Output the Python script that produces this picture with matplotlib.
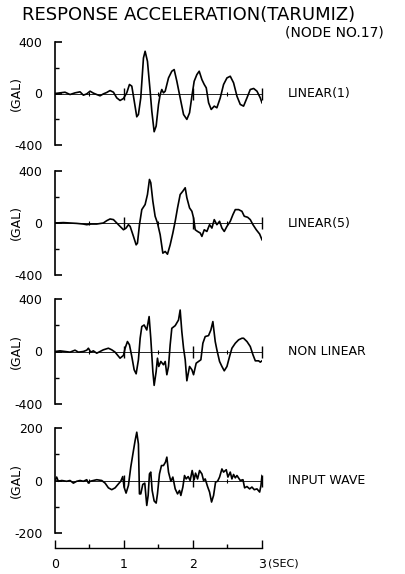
import matplotlib
matplotlib.use("Agg")
import matplotlib.pyplot as plt
from matplotlib.ticker import FixedLocator, MultipleLocator

plt.rcParams['font.family'] = ['DejaVu Sans']
plt.rcParams['axes.unicode_minus'] = False

# ---------------- data (time in sec, acceleration in GAL) ----------------
t_lin1 = [0, 0.073, 0.145, 0.218, 0.290, 0.363, 0.411, 0.460, 0.508, 0.556, 0.605, 0.653,
          0.701, 0.750, 0.798, 0.847, 0.895, 0.943, 0.992, 1.040, 1.079, 1.113, 1.137, 1.185,
          1.209, 1.243, 1.282, 1.306, 1.340, 1.379, 1.403, 1.437, 1.466, 1.500, 1.524, 1.548,
          1.572, 1.597, 1.645, 1.693, 1.727, 1.766, 1.814, 1.863, 1.911, 1.950, 1.984, 2.017,
          2.056, 2.090, 2.129, 2.163, 2.192, 2.226, 2.264, 2.308, 2.346, 2.395, 2.443, 2.492,
          2.540, 2.588, 2.637, 2.685, 2.733, 2.782, 2.830, 2.879, 2.927, 2.975, 3.0]
a_lin1 = [0, 5, 10, -8, 5, 13, -13, -3, 18, 3, -8, -18,
          -3, 8, 23, 10, -34, -54, -39, 5, 70, 57, -21, -181,
          -163, -34, 276, 328, 250, 18, -137, -297, -253, -85, -8, 31,
          5, 18, 121, 173, 186, 95, -34, -163, -201, -150, -21, 95,
          147, 173, 108, 70, 44, -72, -124, -98, -111, -34, 70, 121,
          134, 83, -21, -85, -98, -34, 31, 39, 18, -34, -72]

t_lin5 = [0, 0.121, 0.218, 0.314, 0.411, 0.460, 0.518, 0.605, 0.701, 0.750, 0.798, 0.847,
          0.895, 0.943, 0.992, 1.030, 1.064, 1.089, 1.137, 1.176, 1.195, 1.224, 1.258, 1.306,
          1.340, 1.369, 1.388, 1.418, 1.451, 1.485, 1.524, 1.563, 1.597, 1.630, 1.669, 1.708,
          1.742, 1.776, 1.814, 1.853, 1.887, 1.911, 1.950, 1.984, 2.008, 2.032, 2.066, 2.105,
          2.129, 2.163, 2.201, 2.240, 2.274, 2.308, 2.346, 2.385, 2.419, 2.453, 2.492, 2.540,
          2.579, 2.613, 2.661, 2.709, 2.743, 2.792, 2.830, 2.869, 2.917, 2.966, 3.0]
a_lin5 = [0, 3, 0, -3, -8, -13, -8, -8, 0, 18, 31, 26,
          0, -26, -52, -39, -13, -26, -103, -168, -155, -13, 103, 142,
          219, 335, 310, 168, 52, 0, -90, -232, -219, -240, -168, -77,
          13, 116, 219, 245, 271, 194, 116, 90, 39, -52, -65, -77,
          -103, -52, -65, -13, -39, 26, -13, 13, -39, -65, -26, 13,
          65, 103, 103, 90, 52, 44, 26, -13, -52, -85, -129]

t_nonlin = [0, 0.073, 0.145, 0.218, 0.290, 0.339, 0.411, 0.460, 0.484, 0.518, 0.556, 0.605,
            0.653, 0.701, 0.774, 0.822, 0.871, 0.943, 0.992, 1.016, 1.050, 1.079, 1.113, 1.147,
            1.176, 1.209, 1.234, 1.258, 1.292, 1.330, 1.364, 1.388, 1.418, 1.437, 1.466, 1.485,
            1.504, 1.534, 1.572, 1.597, 1.621, 1.645, 1.669, 1.693, 1.742, 1.790, 1.814, 1.838,
            1.863, 1.887, 1.911, 1.950, 1.984, 2.008, 2.046, 2.080, 2.114, 2.143, 2.177, 2.225,
            2.259, 2.288, 2.322, 2.346, 2.385, 2.419, 2.453, 2.492, 2.530, 2.564, 2.613, 2.661,
            2.709, 2.733, 2.782, 2.830, 2.869, 2.903, 2.951, 2.975, 3.0]
a_nonlin = [0, 5, 0, -5, 10, -5, 0, 10, 25, -5, 5, -13,
            0, 13, 25, 13, -5, -51, -30, 25, 76, 51, -38, -139,
            -170, -63, 101, 190, 202, 164, 266, 101, -152, -258, -152, -51,
            -114, -76, -101, -76, -177, -114, 51, 177, 197, 240, 316, 152,
            25, -63, -223, -114, -139, -177, -89, -76, -63, 63, 114, 121,
            164, 228, 76, 13, -76, -114, -147, -114, -38, 25, 63, 89,
            101, 101, 76, 38, -25, -71, -71, -81, -71]

t_input = [0, 0.024, 0.048, 0.097, 0.169, 0.218, 0.266, 0.314, 0.363, 0.411, 0.460, 0.484,
           0.508, 0.556, 0.605, 0.677, 0.726, 0.774, 0.822, 0.871, 0.919, 0.953, 0.982, 1.001,
           1.030, 1.064, 1.098, 1.137, 1.161, 1.185, 1.209, 1.224, 1.243, 1.272, 1.301, 1.330,
           1.350, 1.369, 1.388, 1.408, 1.437, 1.466, 1.485, 1.514, 1.543, 1.572, 1.601, 1.621,
           1.645, 1.679, 1.708, 1.742, 1.776, 1.805, 1.824, 1.853, 1.877, 1.901, 1.930, 1.959,
           1.988, 2.017, 2.037, 2.066, 2.095, 2.129, 2.153, 2.177, 2.211, 2.240, 2.269, 2.298,
           2.327, 2.356, 2.385, 2.419, 2.443, 2.482, 2.506, 2.540, 2.564, 2.588, 2.613, 2.637,
           2.685, 2.724, 2.748, 2.782, 2.821, 2.854, 2.888, 2.927, 2.966, 2.985, 3.0]
a_input = [0, 13, -3, 0, -3, 0, -10, -3, 0, -3, 3, -10,
           -3, 0, 3, 0, -10, -28, -35, -28, -13, -3, 15, -25,
           -48, -19, 51, 114, 152, 184, 139, -51, -51, -15, -10, -95,
           -57, 25, 32, -38, -78, -86, -51, 25, 57, 57, 70, 89,
           32, -3, 13, -32, -51, -38, -57, -25, 19, 6, 15, 0,
           38, 3, 28, 6, 38, 25, 0, 6, -23, -44, -82, -57,
           -6, -3, 13, 44, 32, 41, 13, 32, 6, 23, 10, 19,
           0, 3, -28, -23, -32, -25, -35, -32, -44, -19, 19]

series_t = [t_lin1, t_lin5, t_nonlin, t_input]
series_a = [a_lin1, a_lin5, a_nonlin, a_input]
labels = ["LINEAR(1)", "LINEAR(5)", "NON LINEAR", "INPUT WAVE"]
y_limits = [400, 400, 400, 200]
x_tick_labels = ["0", "1", "2", "3"]

# ---------------- figure ----------------
W, H = 405, 574
fig = plt.figure(figsize=(W / 100, H / 100), dpi=100)
fig.patch.set_facecolor("white")

x0 = 55 / W
wd = 207 / W
panel_px = [(42, 145), (171, 275), (299, 404), (428, 533)]
FS = 9

for i, (top, bot) in enumerate(panel_px):
    ax = fig.add_axes([x0, 1 - bot / H, wd, (bot - top) / H])
    lim = y_limits[i]
    ax.plot(series_t[i], series_a[i], color="black", lw=1.2, solid_joinstyle="round")
    ax.set_xlim(0, 3)
    ax.set_ylim(-lim, lim)
    for s in ("top", "right"):
        ax.spines[s].set_visible(False)
    ax.spines["left"].set_linewidth(1.2)
    ax.spines["bottom"].set_position(("data", 0))
    ax.spines["bottom"].set_linewidth(0.6)
    ax.xaxis.set_major_locator(FixedLocator([1, 2, 3]))
    ax.xaxis.set_minor_locator(FixedLocator([0.5, 1.5, 2.5]))
    ax.tick_params(axis="x", which="major", direction="inout", length=8, width=1.0,
                   labelbottom=False)
    ax.tick_params(axis="x", which="minor", direction="inout", length=3, width=0.8)
    ax.set_yticks([-lim, 0, lim])
    ax.set_yticklabels([f"-{lim}", "0", f"{lim}"])
    ax.yaxis.set_minor_locator(FixedLocator([-lim / 2, lim / 2]))
    ax.tick_params(axis="y", which="major", direction="in", length=5, width=1.2,
                   labelsize=FS, pad=9)
    ax.tick_params(axis="y", which="minor", direction="in", length=3, width=1.0)
    ax.patch.set_alpha(0)
    ymid = 1 - ((top + bot) / 2) / H
    # "(GAL)" label
    fig.text(16 / W, ymid, "(GAL)", fontsize=FS, rotation=90, ha="center", va="center")
    # series label at right
    fig.text(288 / W, ymid, labels[i], fontsize=FS, ha="left", va="center")

# bottom time axis
axb = fig.add_axes([x0, 1 - 548 / H, wd, 0.001])
axb.set_xlim(0, 3)
axb.set_yticks([])
for s in ("top", "right", "left"):
    axb.spines[s].set_visible(False)
axb.spines["bottom"].set_linewidth(1.0)
axb.set_xticks([0, 1, 2, 3])
axb.set_xticklabels(x_tick_labels)
axb.xaxis.set_minor_locator(MultipleLocator(0.5))
axb.tick_params(axis="x", which="major", direction="in", length=6, width=1.0,
                labelsize=FS, pad=7)
axb.tick_params(axis="x", which="minor", direction="in", length=3, width=1.0)
axb.patch.set_alpha(0)
fig.text(268 / W, 1 - 564 / H, "(SEC)", fontsize=8, ha="left", va="center")

fig.text(22 / W, 1 - 15 / H, "RESPONSE ACCELERATION(TARUMIZ)", fontsize=13,
         ha="left", va="center")
fig.text(285 / W, 1 - 33 / H, "(NODE NO.17)", fontsize=10, ha="left", va="center")

fig.savefig("out.png", dpi=100, facecolor="white")
